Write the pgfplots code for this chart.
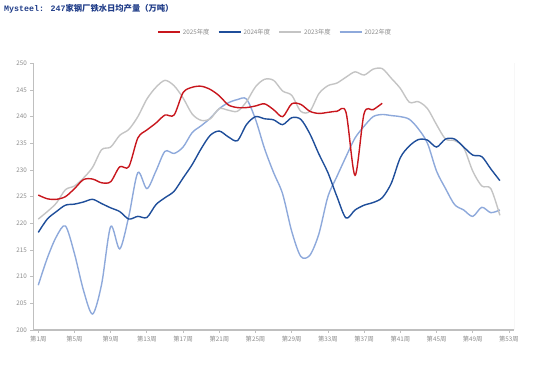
\documentclass[border=0pt]{standalone}
\usepackage{fontspec}
\setmainfont{Noto Sans CJK SC}
\newfontfamily\monofont{Liberation Mono}
\newfontfamily\cjkfont{Noto Sans CJK SC}
\usepackage{pgfplots}
\pgfplotsset{compat=1.18}
\definecolor{c25}{HTML}{C8161D}
\definecolor{c24}{HTML}{1F4E9A}
\definecolor{c23}{HTML}{C4C4C4}
\definecolor{c22}{HTML}{8EA9DB}
\definecolor{axisgrey}{HTML}{BFBFBF}
\definecolor{labelgrey}{HTML}{8C8C8C}
\definecolor{titleblue}{HTML}{1F3C88}
\begin{document}
\begin{tikzpicture}[x=1pt,y=1pt]
\path[use as bounding box] (0,0) rectangle (550,379);
\node[anchor=west, text=titleblue, inner sep=0pt] at (4,370) {\fontsize{8.3}{9}\selectfont\bfseries{\monofont Mysteel: 247}\cjkfont\bfseries 家钢厂铁水日均产量（万吨）};
\begin{axis}[
  at={(33.3pt,49pt)}, anchor=south west, scale only axis,
  width=480.7pt, height=266.7pt,
  xmin=0.45, xmax=53.56, ymin=200, ymax=250,
  axis x line*=bottom, axis y line*=left,
  axis line style={draw=axisgrey, line width=1.3pt},
  xtick={1,5,...,53},
  xticklabels={第1周,第5周,第9周,第13周,第17周,第21周,第25周,第29周,第33周,第37周,第41周,第45周,第49周,第53周},
  ytick={200,205,...,250},
  tick style={draw=axisgrey, line width=0.8pt},
  major tick length=3pt, tick align=outside,
  ticklabel style={font=\fontsize{6.3}{7}\selectfont, text=labelgrey},
  /pgf/number format/assume math mode=true,
  legend style={at={(0.503,1.117)}, anchor=center, draw=none, fill=none,
    font=\fontsize{6.3}{7}\selectfont, text=labelgrey,
    /tikz/every even column/.append style={column sep=6pt}},
  legend columns=4,
  legend image code/.code={\draw[#1, line width=2pt] (0pt,0pt) -- (22pt,0pt);},
]
\addlegendimage{c25}\addlegendentry{2025年度}
\addlegendimage{c24}\addlegendentry{2024年度}
\addlegendimage{c23}\addlegendentry{2023年度}
\addlegendimage{c22}\addlegendentry{2022年度}
% 2022
\addplot[c22, line width=1.4pt, smooth, forget plot] coordinates {
(1,208.4)(2,213.5)(3,217.5)(4,219.5)(5,214.3)(6,207.4)(7,203.0)(8,208.6)(9,219.4)(10,215.2)
(11,221.3)(12,229.5)(13,226.5)(14,229.8)(15,233.5)(16,233.1)(17,234.3)(18,237.0)(19,238.3)(20,239.7)
(21,241.5)(22,242.6)(23,243.2)(24,243.3)(25,239.5)(26,234.0)(27,229.5)(28,225.5)(29,218.5)(30,213.8)
(31,214.0)(32,218.0)(33,225.0)(34,228.8)(35,232.5)(36,236.0)(37,238.2)(38,240.0)(39,240.4)(40,240.2)
(41,240.0)(42,239.5)(43,237.7)(44,235.0)(45,229.8)(46,226.5)(47,223.5)(48,222.5)(49,221.3)(50,223.0)
(51,222.0)(52,222.5)};
% 2023
\addplot[c23, line width=1.4pt, smooth, forget plot] coordinates {
(1,220.8)(2,222.2)(3,223.8)(4,226.3)(5,227.0)(6,228.5)(7,230.5)(8,233.8)(9,234.3)(10,236.5)
(11,237.6)(12,240.0)(13,243.3)(14,245.5)(15,246.8)(16,245.8)(17,243.5)(18,240.5)(19,239.3)(20,239.6)
(21,241.5)(22,241.2)(23,241.0)(24,242.8)(25,245.6)(26,247.0)(27,246.8)(28,244.8)(29,244.0)(30,241.0)
(31,241.0)(32,244.3)(33,245.8)(34,246.3)(35,247.4)(36,248.4)(37,247.8)(38,248.9)(39,249.0)(40,247.2)
(41,245.3)(42,242.7)(43,242.8)(44,241.5)(45,238.5)(46,235.8)(47,235.5)(48,234.2)(49,229.8)(50,227.0)
(51,226.5)(52,221.5)};
% 2024
\addplot[c24, line width=1.4pt, smooth, forget plot] coordinates {
(1,218.3)(2,220.8)(3,222.2)(4,223.4)(5,223.6)(6,224.0)(7,224.5)(8,223.7)(9,222.9)(10,222.2)
(11,220.8)(12,221.3)(13,221.1)(14,223.5)(15,224.8)(16,226.0)(17,228.5)(18,231.0)(19,234.0)(20,236.5)
(21,237.3)(22,236.2)(23,235.5)(24,238.5)(25,240.0)(26,239.6)(27,239.4)(28,238.5)(29,239.8)(30,239.5)
(31,236.8)(32,233.0)(33,229.5)(34,225.0)(35,221.0)(36,222.5)(37,223.4)(38,223.9)(39,224.8)(40,227.5)
(41,232.3)(42,234.5)(43,235.7)(44,235.6)(45,234.3)(46,235.8)(47,235.8)(48,234.3)(49,232.8)(50,232.5)
(51,230.2)(52,228.0)};
% 2025
\addplot[c25, line width=1.4pt, smooth, forget plot] coordinates {
(1,225.3)(2,224.6)(3,224.5)(4,225.0)(5,226.5)(6,228.2)(7,228.3)(8,227.6)(9,227.8)(10,230.6)
(11,230.6)(12,236.0)(13,237.5)(14,238.8)(15,240.3)(16,240.3)(17,244.5)(18,245.5)(19,245.7)(20,245.1)
(21,243.9)(22,242.2)(23,241.7)(24,241.7)(25,242.0)(26,242.4)(27,241.3)(28,240.0)(29,242.4)(30,242.3)
(31,241.0)(32,240.6)(33,240.8)(34,241.0)(35,240.8)(36,229.0)(37,240.6)(38,241.3)(39,242.5)};
\draw[axisgrey, line width=0.8pt] (rel axis cs:1,0) -- (rel axis cs:1,1);
\end{axis}
\end{tikzpicture}
\end{document}
